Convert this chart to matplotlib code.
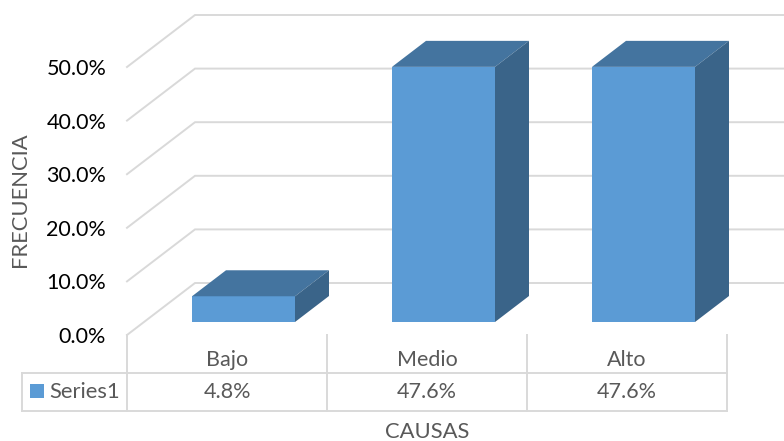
#!/usr/bin/env python3
import matplotlib
matplotlib.use('Agg')
import matplotlib.pyplot as plt

categories = ['Bajo', 'Medio', 'Alto']
values = [4.8, 47.6, 47.6]
value_labels = ['4.8%', '47.6%', '47.6%']
y_ticks = [0, 10, 20, 30, 40, 50]
series_name = 'Series1'

W, H = 784, 441
X0, Y0 = 127, 335       # pixel position of the front corner of the floor
CAT_W = 200.0           # pixels per category
PCT_H = 5.36            # pixels per percent
DX = 68 / CAT_W         # floor depth in data units
DY = 52 / PCT_H

GREY = '#d9d9d9'
TEXT = '#595959'
FRONT, TOP, SIDE = '#5b9bd5', '#44749f', '#3a6489'
LW = 1.4
FS = 15.8

plt.rcParams['font.family'] = ['Lato', 'DejaVu Sans']


def px_x(p):
    return (p - X0) / CAT_W


def px_y(p):
    return (Y0 - p) / PCT_H


def draw_bar(ax, i, v):
    # box sits between 1/4 and 3/4 of the floor depth
    x0, x1 = i + 0.325, i + 0.84
    d0x, d0y = DX * 0.25, DY * 0.25
    d1x, d1y = DX * 0.75, DY * 0.75
    l, r = x0, x1
    b, t = d0y, d0y + v
    ox, oy = d1x - d0x, d1y - d0y
    ax.fill([l, r, r, l], [b, b, t, t], color=FRONT, lw=0, zorder=3)
    ax.fill([l, r, r + ox, l + ox], [t, t, t + oy, t + oy], color=TOP, lw=0, zorder=3)
    ax.fill([r, r + ox, r + ox, r], [b, b + oy, t + oy, t], color=SIDE, lw=0, zorder=3)


fig = plt.figure(figsize=(W / 100, H / 100), dpi=100)
ax = fig.add_axes([X0 / W, (H - Y0) / H, (W - X0) / W, Y0 / H])
ax.set_xlim(0, (W - X0) / CAT_W)
ax.set_ylim(0, Y0 / PCT_H)
for s in ax.spines.values():
    s.set_visible(False)

# walls: slanted part on the side wall, flat part on the back wall
for t in y_ticks:
    ax.plot([0, DX, ax.get_xlim()[1]], [t, t + DY, t + DY], color=GREY, lw=LW,
            clip_on=False, zorder=1, solid_joinstyle='miter')

for i, v in enumerate(values):
    draw_bar(ax, i, v)

# data table under the floor
row_top, row_bottom = px_y(373), px_y(411)
n = len(categories)
left = px_x(22)
ax.plot([left, n], [row_top, row_top], color=GREY, lw=LW, clip_on=False)
ax.plot([left, n], [row_bottom, row_bottom], color=GREY, lw=LW, clip_on=False)
ax.plot([left, left], [row_top, row_bottom], color=GREY, lw=LW, clip_on=False)
for i in range(n + 1):
    ax.plot([i, i], [0, row_bottom], color=GREY, lw=LW, clip_on=False)

ax.set_yticks(y_ticks)
ax.set_yticklabels(['%.1f%%' % t for t in y_ticks], fontsize=FS - 0.3, color='black')
ax.tick_params(axis='y', length=0, pad=15)
ax.set_xticks([i + 0.5 for i in range(n)])
ax.set_xticklabels(categories, fontsize=FS - 0.3, color=TEXT)
ax.tick_params(axis='x', length=0, pad=11)

for i, label in enumerate(value_labels):
    ax.text(i + 0.5, px_y(391.5), label, ha='center', va='center', fontsize=FS - 0.3,
            color=TEXT, clip_on=False)

ax.fill([px_x(30), px_x(44), px_x(44), px_x(30)],
        [px_y(398), px_y(398), px_y(384), px_y(384)], color=FRONT, lw=0, clip_on=False)
ax.text(px_x(49), px_y(391.5), series_name, ha='left', va='center', fontsize=FS,
        color=TEXT, clip_on=False)

fig.text(427 / W, 1 - 432 / H, 'CAUSAS', ha='center', va='center', fontsize=FS, color=TEXT)
fig.text(20 / W, 1 - 200 / H, 'FRECUENCIA', ha='center', va='center', rotation=90,
         fontsize=FS, color=TEXT)

fig.savefig('out.png', dpi=100)
